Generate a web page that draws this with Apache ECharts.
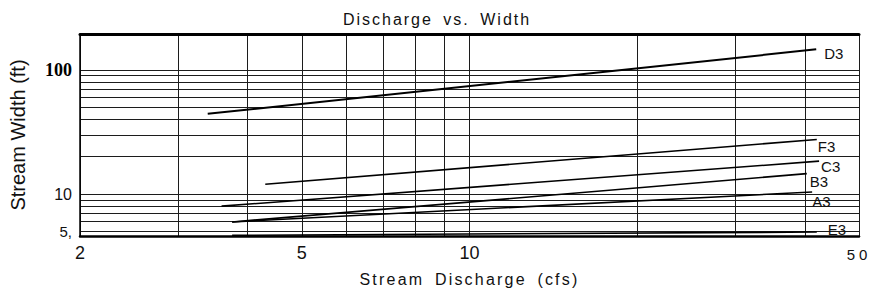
<!DOCTYPE html>
<html>
<head>
<meta charset="utf-8">
<script src="https://cdn.jsdelivr.net/npm/echarts@6/dist/echarts.min.js"></script>
<style>
    html, body { margin: 0; padding: 0; background: #fff; }
    #main { width: 874px; height: 300px; }
</style>
</head>
<body>
<div id="main"></div>
<script>
// values (discharge in cfs, width in ft)
var seriesNames = ['D3', 'F3', 'C3', 'B3', 'A3', 'E3'];
var d3Line = [[3.39, 44.2], [41.9, 146]];
var f3Line = [[4.3, 12.0], [42.0, 27.5]];
var c3Line = [[3.59, 8.0], [42.4, 18.4]];
var b3Line = [[3.75, 5.97], [40.3, 14.6]];
var a3Line = [[3.75, 5.97], [41.2, 10.4]];
var e3Line = [[3.75, 4.65], [42.0, 4.95]];

var xLabelValues = [2, 5, 10, 50];
var xGridValues = [2, 3, 4, 5, 6, 7, 8, 9, 10, 20, 30, 40, 50];
var yLabelValues = [5, 10, 100];
var yGridValues = [5, 6, 7, 8, 9, 10, 20, 30, 40, 50, 60, 70, 80, 90, 100];

// where each end label sits against the end of its line
var labelOffsets = [[0, 4], [-7, 7], [-6, 5], [-5, 8], [-8, 10], [3, -3]];
// letter spacing of the typewriter-like texts
var spacing = { 'Discharge vs. Width': 2, 'Stream Discharge (cfs)': 2.2, '50': 4 };

var chartPage = function () {
    var self = this;
    self.chart = echarts.init(document.getElementById('main'), null, { renderer: 'svg' });
    self.lines = [d3Line, f3Line, c3Line, b3Line, a3Line, e3Line];

    self.buildSeries = function () {
        var list = [];
        for (var i = 0; i < seriesNames.length; i++) {
            list.push({
                name: seriesNames[i],
                type: 'line',
                data: self.lines[i],
                symbol: 'none',
                silent: true,
                lineStyle: { color: '#000', width: i == 0 ? 2 : 1.6 },
                endLabel: {
                    show: true,
                    formatter: '{a}',
                    distance: 8,
                    offset: labelOffsets[i],
                    color: '#111',
                    fontSize: 15,
                    fontFamily: 'Liberation Sans'
                }
            });
        }
        return list;
    }

    self.init = function () {
        var option = {
            animation: false,
            backgroundColor: '#fff',
            title: {
                text: 'Discharge vs. Width',
                left: 'center',
                top: 6,
                textStyle: { fontSize: 16, fontWeight: 'normal', color: '#111', fontFamily: 'Liberation Sans' }
            },
            grid: { left: 80, right: 15, top: 34, bottom: 64 },
            xAxis: [{
                type: 'log',
                min: 2,
                max: 50,
                name: 'Stream Discharge (cfs)',
                nameLocation: 'middle',
                nameGap: 35,
                nameTextStyle: { fontSize: 16, color: '#111', fontFamily: 'Liberation Sans' },
                axisLine: { show: true, lineStyle: { color: '#000', width: 2.5 } },
                axisTick: { show: false, customValues: xGridValues },
                axisLabel: {
                    customValues: xLabelValues,
                    margin: 8,
                    fontSize: 18,
                    color: '#111',
                    fontFamily: 'Liberation Sans',
                    formatter: function (v) { return v == 50 ? '{s|50}' : String(v); },
                    rich: { s: { fontSize: 15, padding: [3, 0, 0, 0], fontFamily: 'Liberation Sans', color: '#111' } }
                },
                splitLine: { show: true, lineStyle: { color: '#1c1c1c', width: 1 } }
            }, {
                type: 'log',
                min: 2,
                max: 50,
                position: 'top',
                axisLine: { show: true, lineStyle: { color: '#000', width: 3 } },
                axisTick: { show: false },
                axisLabel: { show: false },
                splitLine: { show: false }
            }],
            yAxis: {
                type: 'log',
                min: 4.6,
                max: 194,
                name: 'Stream Width (ft)',
                nameLocation: 'middle',
                nameGap: 52,
                nameTextStyle: { fontSize: 20, color: '#111', fontFamily: 'Liberation Sans' },
                axisLine: { show: true, lineStyle: { color: '#000', width: 1.5 } },
                axisTick: { show: false, customValues: yGridValues },
                axisLabel: {
                    customValues: yLabelValues,
                    margin: 8,
                    fontSize: 16,
                    color: '#111',
                    fontFamily: 'Liberation Sans',
                    formatter: function (v) {
                        if (v == 100) return '{b|100}';
                        if (v == 5) return '{c|5,}';
                        return String(v);
                    },
                    rich: {
                        b: { fontSize: 18, fontWeight: 'bold', fontFamily: 'Liberation Serif', color: '#000' },
                        c: { fontSize: 15, fontFamily: 'Liberation Sans', color: '#111', padding: [0, 0, 0, 0] }
                    }
                },
                splitLine: { show: true, lineStyle: { color: '#1c1c1c', width: 1 } }
            },
            series: self.buildSeries()
        };
        self.chart.on('finished', self.spaceTexts);
        self.chart.setOption(option);
    }

    self.spaceTexts = function () {
        var texts = document.querySelectorAll('#main text');
        for (var i = 0; i < texts.length; i++) {
            var s = spacing[texts[i].textContent];
            if (s != null) {
                texts[i].style.letterSpacing = s + 'px';
                texts[i].style.wordSpacing = '4px';
            }
        }
    }
}

var page = new chartPage();
page.init();
</script>
</body>
</html>
